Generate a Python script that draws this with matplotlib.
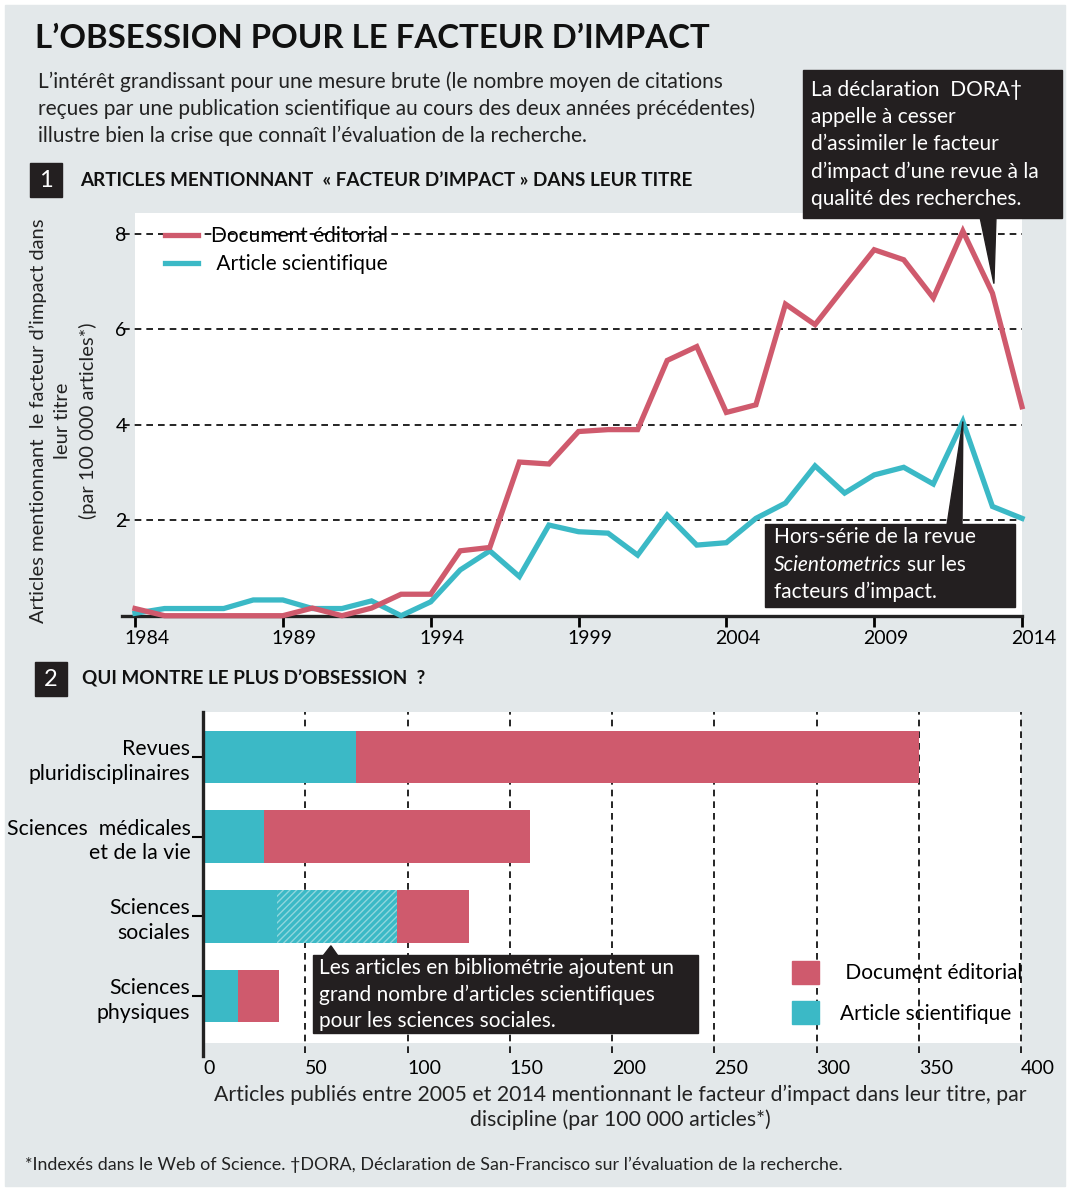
import numpy as np
import matplotlib.pyplot as plt
import matplotlib.transforms as mtransforms
from matplotlib.patches import Rectangle, Polygon, Patch

W, H = 1070, 1191
BG = '#e3e8ea'
RED = '#cf5a6d'
CYAN = '#3bb9c6'
DARK = '#231f20'

# données du graphique 1
annees = list(range(1984, 2015))
editorial = [0.15, 0.0, 0.0, 0.0, 0.0, 0.0, 0.16, 0.0, 0.16, 0.45, 0.45,
             1.36, 1.43, 3.22, 3.18, 3.86, 3.9, 3.9, 5.35, 5.64, 4.26,
             4.42, 6.53, 6.1, 6.89, 7.67, 7.46, 6.66, 8.06, 6.76, 4.38]
scientifique = [0.05, 0.15, 0.15, 0.15, 0.33, 0.33, 0.15, 0.15, 0.31, 0.0, 0.29,
                0.96, 1.36, 0.82, 1.9, 1.76, 1.73, 1.27, 2.11, 1.48, 1.53,
                2.04, 2.36, 3.14, 2.57, 2.95, 3.11, 2.76, 4.07, 2.29, 2.04]

# données du graphique 2
disciplines = ['Revues\npluridisciplinaires', 'Sciences  médicales\net de la vie',
               'Sciences\nsociales', 'Sciences\nphysiques']
bar_scient = [75, 30, 95, 17]
bar_edito = [275, 130, 35, 20]
bar_biblio = [0, 0, 59, 0]   # part bibliométrie (hachurée)

BODY = ['Lato', 'DejaVu Sans']
plt.rcParams['font.family'] = BODY
plt.rcParams['hatch.linewidth'] = 1.0
TXT = 15


def fx(x):
    return x / W


def fy(y):
    return 1 - y / H


fig = plt.figure(figsize=(W / 100, H / 100), dpi=100)
fig.patch.set_facecolor('white')
fig.patches.append(Rectangle((fx(5), fy(1186)), fx(1060), 1181 / H,
                             transform=fig.transFigure, color=BG, zorder=-5))
renderer = fig.canvas.get_renderer()

# titres
fig.text(fx(35), fy(38), 'L\u2019OBSESSION POUR LE FACTEUR D\u2019IMPACT',
         fontweight='bold', fontsize=23.8, va='center', ha='left', color='#111111')
sous_titre = ['L\u2019intérêt grandissant pour une mesure brute (le nombre moyen de citations',
              'reçues par une publication scientifique au cours des deux années précédentes)',
              'illustre bien la crise que connaît l\u2019évaluation de la recherche.']
for i, t in enumerate(sous_titre):
    fig.text(fx(38), fy(82 + 27 * i), t, fontsize=TXT, va='center', color='#222222')


def section(num, x0, y0, texte, tx):
    fig.patches.append(Rectangle((fx(x0), fy(y0 + 34)), 32 / W, 34 / H,
                                 transform=fig.transFigure, color=DARK, zorder=2))
    fig.text(fx(x0 + 16), fy(y0 + 17), num, color='white', fontsize=17,
             ha='center', va='center', zorder=3)
    fig.text(fx(tx), fy(y0 + 17), texte, fontweight='bold',
             fontsize=13.6, va='center', color='#111111')


section('1', 30, 163, 'ARTICLES MENTIONNANT  « FACTEUR D\u2019IMPACT » DANS LEUR TITRE', 80)
section('2', 35, 662, 'QUI MONTRE LE PLUS D\u2019OBSESSION  ?', 82)

# ---- graphique 1 : courbes ----
ax1 = fig.add_axes([fx(135), fy(615.7), fx(1022 - 135), (615.7 - 213) / H])
ax1.set_facecolor('white')
ax1.set_xlim(1984, 2014)
ax1.set_ylim(0, 8.44)
ax1.plot(annees, editorial, color=RED, lw=3.8, clip_on=False, zorder=4,
         solid_joinstyle='miter', label='Document éditorial')
ax1.plot(annees, scientifique, color=CYAN, lw=3.8, clip_on=False, zorder=3,
         solid_joinstyle='miter', label=' Article scientifique')
for v in [2, 4, 6, 8]:
    ax1.plot([-0.014, 1], [v / 8.44] * 2, transform=ax1.transAxes, color='black',
             lw=1.2, ls=(0, (4, 3)), clip_on=False, zorder=1)
ax1.plot([-0.015, 1], [0, 0], transform=ax1.transAxes, color='#222222', lw=2.4,
         clip_on=False, zorder=2)
for s in ax1.spines.values():
    s.set_visible(False)
ax1.set_yticks([2, 4, 6, 8])
ax1.set_yticklabels(['2', '4', '6', '8'])
ax1.tick_params(axis='y', length=0, pad=6, labelsize=14)
ax1.set_xticks(range(1984, 2015, 5))
ax1.tick_params(axis='x', length=8, width=2, direction='out', pad=2, labelsize=14)
decal = mtransforms.ScaledTranslation(-11 / 100, 0, fig.dpi_scale_trans)
for lab in ax1.get_xticklabels():
    lab.set_horizontalalignment('left')
    lab.set_transform(lab.get_transform() + decal)
leg = ax1.legend(loc='upper left', bbox_to_anchor=(0.034, 0.968), frameon=False,
                 fontsize=TXT, handlelength=1.6, borderpad=0, borderaxespad=0,
                 labelspacing=0.4, handletextpad=0.6)
fig.text(fx(63), fy(421),
         'Articles mentionnant  le facteur d\u2019impact dans\nleur titre\n(par 100 000 articles*)',
         rotation=90, ha='center', va='center', multialignment='center',
         fontsize=14.5, linespacing=1.5, color='#222222')

# encadré DORA
fig.patches.append(Rectangle((fx(803), fy(218)), 259 / W, 148 / H,
                             transform=fig.transFigure, color=DARK, zorder=5))
dora = ['La déclaration  DORA\u2020', 'appelle à cesser', 'd\u2019assimiler le facteur',
        'd\u2019impact d\u2019une revue à la', 'qualité des recherches.']
for i, t in enumerate(dora):
    fig.text(fx(811), fy(90 + 27.2 * i), t, color='white', fontsize=TXT,
             va='center', zorder=6)
tip = fig.transFigure.inverted().transform(
    ax1.transData.transform((annees[-2] + 0.05, editorial[-2] + 0.2)))
fig.patches.append(Polygon([(fx(980), fy(217)), (fx(996), fy(217)), tuple(tip)],
                           closed=True, transform=fig.transFigure, color=DARK, zorder=5))

# encadré Hors-série
fig.patches.append(Rectangle((fx(765), fy(607)), 250 / W, 83 / H,
                             transform=fig.transFigure, color=DARK, zorder=5))
fig.text(fx(774), fy(537), 'Hors-série de la revue', color='white', fontsize=TXT,
         va='center', zorder=6)
t_it = fig.text(fx(774), fy(565), 'Scientometrics', color='white', style='italic',
                fontsize=TXT, va='center', zorder=6)
x_fin = t_it.get_window_extent(renderer).x1
fig.text((x_fin + 5) / W, fy(565), 'sur les', color='white',
         fontsize=TXT, va='center', zorder=6)
fig.text(fx(774), fy(592), 'facteurs d\u2019impact.', color='white', fontsize=TXT,
         va='center', zorder=6)
tip2 = fig.transFigure.inverted().transform(
    ax1.transData.transform((annees[-3], scientifique[-3])))
fig.patches.append(Polygon([(fx(947), fy(525)), (fx(962), fy(525)), tuple(tip2)],
                           closed=True, transform=fig.transFigure, color=DARK, zorder=5))

# ---- graphique 2 : barres ----
ax2 = fig.add_axes([fx(203), fy(1043), fx(1021 - 203), (1043 - 712) / H])
ax2.set_facecolor('white')
y = np.arange(len(disciplines))
sci = np.array(bar_scient)
bib = np.array(bar_biblio)
edi = np.array(bar_edito)
ax2.barh(y, sci - bib, height=0.665, color=CYAN, zorder=3)
ax2.barh(y, bib, left=sci - bib, height=0.665, facecolor=CYAN, hatch='/////',
         edgecolor='#8fd6dd', lw=0, zorder=3)
ax2.barh(y, edi, left=sci, height=0.665, color=RED, zorder=3)
ax2.set_xlim(0, 400)
ax2.set_ylim(3.59, -0.565)
for v in range(50, 401, 50):
    ax2.plot([v, v], [-0.03, 1], transform=ax2.get_xaxis_transform(), color='black',
             lw=1.2, ls=(0, (4, 3)), clip_on=False, zorder=1)
for s in ax2.spines.values():
    s.set_visible(False)
ax2.plot([0, 0], [-0.04, 1], transform=ax2.get_xaxis_transform(), color='#222222',
         lw=2.4, clip_on=False, zorder=4)
ax2.set_xticks(range(0, 401, 50))
ax2.tick_params(axis='x', length=0, pad=12, labelsize=14)
for lab in ax2.get_xticklabels():
    lab.set_horizontalalignment('left')
ax2.set_yticks(y)
ax2.set_yticklabels(disciplines, linespacing=1.3)
ax2.tick_params(axis='y', length=8, width=1.5, pad=1, labelsize=15.3)
ax2.set_xlabel('Articles publiés entre 2005 et 2014 mentionnant le facteur d\u2019impact dans leur titre, par\n'
               'discipline (par 100 000 articles*)', fontsize=15.3, linespacing=1.3,
               color='#222222', va='top')
ax2.xaxis.set_label_coords(0.51, -0.125)
ax2.legend(handles=[Patch(color=RED, label=' Document éditorial'),
                    Patch(color=CYAN, label='Article scientifique')],
           loc='lower left', bbox_to_anchor=(0.72, 0.057), frameon=False, fontsize=TXT,
           handlelength=1.3, handleheight=1.3, labelspacing=0.85, handletextpad=1.0,
           borderpad=0, borderaxespad=0)

# encadré bibliométrie
fig.patches.append(Rectangle((fx(313), fy(1033)), 385 / W, 78 / H,
                             transform=fig.transFigure, color=DARK, zorder=5))
biblio_txt = ['Les articles en bibliométrie ajoutent un',
              'grand nombre d\u2019articles scientifiques',
              'pour les sciences sociales.']
for i, t in enumerate(biblio_txt):
    fig.text(fx(319), fy(968 + 26.5 * i), t, color='white', fontsize=TXT,
             va='center', zorder=6)
tip3 = fig.transFigure.inverted().transform(
    ax2.transData.transform((sci[2] - bib[2] * 0.55, 2.37)))
fig.patches.append(Polygon([(fx(323), fy(956)), (fx(338), fy(956)), tuple(tip3)],
                           closed=True, transform=fig.transFigure, color=DARK, zorder=5))

# note
fig.text(fx(25), fy(1165), '*Indexés dans le Web of Science. \u2020DORA, Déclaration de '
         'San-Francisco sur l\u2019évaluation de la recherche.', fontsize=12.9,
         va='center', color='#222222')

fig.savefig('out.png', dpi=100, facecolor=fig.get_facecolor())
